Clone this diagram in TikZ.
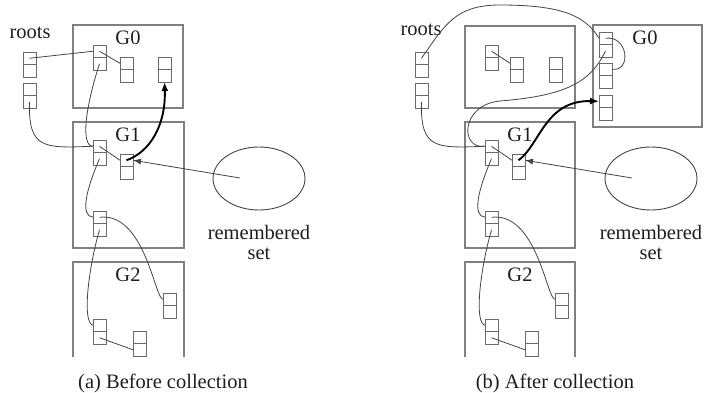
\documentclass[tikz,border=0pt]{standalone}
\usepackage{fontspec}
\setmainfont{Liberation Serif}
\usetikzlibrary{arrows.meta}
\definecolor{boxgray}{HTML}{808080}
\definecolor{objgray}{HTML}{6A6A6A}
\definecolor{linkgray}{HTML}{444444}
\definecolor{txt}{HTML}{1E1E1E}
\tikzset{
  genbox/.style={draw=boxgray,line width=1.7pt},
  cellbox/.style={draw=objgray,line width=1pt,minimum width=13pt,minimum height=12.5pt,inner sep=0pt,outer sep=0pt},
  link/.style={draw=linkgray,line width=0.8pt},
  thicklink/.style={draw=black,line width=1.9pt,-{Latex[length=9pt,width=7pt]}},
  rsarrow/.style={draw=linkgray,line width=0.8pt,-{Latex[length=8pt,width=6pt]}},
  lbl/.style={text=txt,font=\fontsize{20.5}{22}\selectfont,inner sep=0pt},
  rset/.style={draw=linkgray,line width=0.9pt},
}
\newcommand{\gcobj}[3]{%
  \node[cellbox,anchor=north west] (#1t) at (#2,#3) {};
  \node[cellbox,anchor=north] (#1b) at (#1t.south) {};}
\begin{document}
\begin{tikzpicture}[x=1pt,y=-1pt]
\useasboundingbox (0,0) rectangle (705,392);

% ================= (a) Before collection =================
\draw[genbox] (73,25) rectangle (183,108);
\draw[genbox] (73,122) rectangle (184,248);
\draw[genbox] (73,357) -- (73,262) -- (184,262) -- (184,357);
\node[lbl] (lG0) at (128,38) {G0};
\node[lbl] (lG1) at (128,135) {G1};
\node[lbl] (lG2) at (128,275) {G2};
\node[lbl] (lroots) at (30,33) {roots};

\gcobj{lR1}{23}{52}
\gcobj{lR2}{23}{83}
\gcobj{lA}{93}{45}
\gcobj{lB}{120}{57}
\gcobj{lC}{158}{57}
\gcobj{lD}{93}{140}
\gcobj{lE}{120}{154}
\gcobj{lF}{93}{211}
\gcobj{lG}{163}{293}
\gcobj{lH}{93}{319}
\gcobj{lI}{133}{331}

\draw[rset] (259,178.5) ellipse [x radius=46, y radius=31.5];
\coordinate (lrs) at (240,178);
\node[lbl] (lrem) at (259,232) {remembered};
\node[lbl] (lset) at (259,254) {set};

\draw[link] (lR1t.center) -- (lAt.west);
\draw[link] (lAt.center) -- (lBt.west);
\draw[link] (lAb.center) .. controls (86,105) and (80,146) .. (lDt.west);
\draw[link] (lR2b.center) .. controls (28,150) and (45,148) .. (lDt.west);
\draw[link] (lDt.center) -- (lEt.west);
\draw[link] (lDb.center) .. controls (86,190) and (80,216) .. (lFt.west);
\draw[link] (lFt.center) .. controls (145,212) and (155,300) .. (lGt.west);
\draw[link] (lFb.center) .. controls (88,270) and (82,323) .. (lHt.west);
\draw[link] (lHb.center) -- (lIb.west);
\draw[thicklink] (lEt.center) .. controls (150,152) and (166,125) .. (lCb.south);
\draw[rsarrow] (lrs) -- (lEt.east);

\node[lbl] (lcap) at (163,383) {(a) Before collection};

% ================= (b) After collection =================
\draw[genbox] (465,26) rectangle (575,108);
\draw[genbox] (593,25) rectangle (702,127);
\draw[genbox] (465,122) rectangle (575,248);
\draw[genbox] (465,357) -- (465,262) -- (575,262) -- (575,357);
\node[lbl] (rG0) at (645,38) {G0};
\node[lbl] (rG1) at (520,135) {G1};
\node[lbl] (rG2) at (520,275) {G2};
\node[lbl] (rroots) at (421,30) {roots};

\gcobj{rR1}{415}{52}
\gcobj{rR2}{415}{83}
\gcobj{rA}{485}{45}
\gcobj{rB}{510}{57}
\gcobj{rC}{549}{57}
\gcobj{rN1}{599}{32}
\gcobj{rN2}{599}{63}
\gcobj{rN3}{599}{95}
\gcobj{rD}{485}{140}
\gcobj{rE}{512}{154}
\gcobj{rF}{485}{211}
\gcobj{rG}{555}{293}
\gcobj{rH}{485}{319}
\gcobj{rI}{525}{331}

\draw[rset] (651,178.5) ellipse [x radius=46, y radius=31.5];
\coordinate (rrs) at (632,178);
\node[lbl] (rrem) at (651,232) {remembered};
\node[lbl] (rset) at (651,254) {set};

\draw[link] (rR1t.center) .. controls (445,25) and (455,5) .. (500,5)
  .. controls (560,5) and (585,15) .. (rN1t.west);
\draw[link] (rN1t.center) .. controls (628,35) and (632,72) .. (rN2t.east);
\draw[link] (rN1b.center) .. controls (590,85) and (560,96) .. (500,101)
  .. controls (460,105) and (460,150) .. (rDt.west);
\draw[link] (rAt.center) -- (rBt.west);
\draw[link] (rR2b.center) .. controls (420,150) and (437,148) .. (rDt.west);
\draw[link] (rDt.center) -- (rEt.west);
\draw[link] (rDb.center) .. controls (478,190) and (472,216) .. (rFt.west);
\draw[link] (rFt.center) .. controls (537,212) and (547,300) .. (rGt.west);
\draw[link] (rFb.center) .. controls (480,270) and (474,323) .. (rHt.west);
\draw[link] (rHb.center) -- (rIb.west);
\draw[thicklink] (rEt.center) .. controls (540,145) and (545,100) .. (rN3t.west);
\draw[rsarrow] (rrs) -- (rEt.east);

\node[lbl] (rcap) at (555,383) {(b) After collection};
\end{tikzpicture}
\end{document}
